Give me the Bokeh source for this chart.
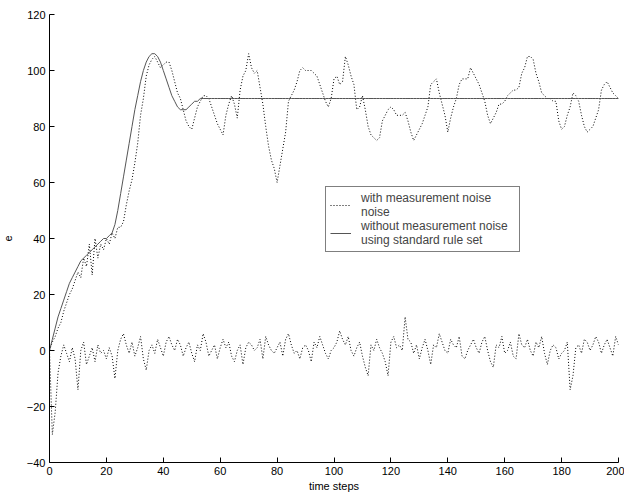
from bokeh.plotting import figure
from bokeh.models import Legend, LegendItem, FixedTicker
from bokeh.embed import file_html
from bokeh.resources import INLINE

# time steps
steps = list(range(0, 201))

# with measurement noise (dotted)
with_noise = [
    0, 3, 5, 8, 10, 14, 17, 20, 22, 25,
    28, 26, 33, 30, 38, 27, 40, 33, 38, 36,
    40, 38, 42, 40, 44, 44, 46, 52, 57, 61,
    67, 74, 84, 90, 98, 102, 104, 105, 103, 101,
    102, 103, 103, 100, 96, 92, 90, 86, 82, 80,
    79, 83, 87, 89, 91, 91, 90, 87, 84, 81,
    79, 77, 84, 88, 91, 88, 83, 93, 98, 100,
    106, 101, 99, 100, 94, 88, 80, 73, 68, 65,
    60, 66, 72, 78, 89, 91, 93, 96, 100, 101,
    100, 100, 100, 99, 98, 95, 92, 89, 87, 90,
    97, 98, 95, 96, 105, 102, 98, 95, 86, 87,
    91, 86, 80, 77, 76, 75, 76, 82, 84, 86,
    87, 86, 84, 84, 84, 85, 82, 78, 75, 77,
    79, 81, 84, 87, 95, 96, 97, 92, 88, 84,
    78, 83, 87, 90, 95, 97, 97, 97, 101, 99,
    97, 95, 92, 89, 84, 81, 83, 85, 88, 88,
    89, 91, 92, 93, 93, 94, 99, 101, 105, 105,
    104, 99, 96, 92, 91, 90, 90, 89, 89, 82,
    79, 80, 84, 87, 92, 91, 89, 84, 80, 78,
    79, 80, 83, 86, 93, 95, 96, 94, 92, 91,
    90,
]

# without measurement noise, standard rule set (solid)
without_noise = [
    0, 4, 8, 12, 15, 18, 21, 24, 26, 28,
    30, 32, 33, 34, 35, 36, 37, 38, 39, 40,
    40, 41, 42, 45, 50, 56, 62, 68, 74, 80,
    86, 91, 96, 100, 103, 105, 106, 106, 105, 103,
    100, 97, 94, 91, 89, 87, 86, 86, 86, 87,
    88, 89, 89, 90, 90, 90, 90, 90, 90, 90,
    90, 90, 90, 90, 90, 90, 90, 90, 90, 90,
    90, 90, 90, 90, 90, 90, 90, 90, 90, 90,
    90, 90, 90, 90, 90, 90, 90, 90, 90, 90,
    90, 90, 90, 90, 90, 90, 90, 90, 90, 90,
    90, 90, 90, 90, 90, 90, 90, 90, 90, 90,
    90, 90, 90, 90, 90, 90, 90, 90, 90, 90,
    90, 90, 90, 90, 90, 90, 90, 90, 90, 90,
    90, 90, 90, 90, 90, 90, 90, 90, 90, 90,
    90, 90, 90, 90, 90, 90, 90, 90, 90, 90,
    90, 90, 90, 90, 90, 90, 90, 90, 90, 90,
    90, 90, 90, 90, 90, 90, 90, 90, 90, 90,
    90, 90, 90, 90, 90, 90, 90, 90, 90, 90,
    90, 90, 90, 90, 90, 90, 90, 90, 90, 90,
    90, 90, 90, 90, 90, 90, 90, 90, 90, 90,
    90,
]

# lower series (measurement noise / error) near zero
error_series = [
    0, -30, -22, -8, -2, 2, -1, -4, 1, -3,
    -14, 0, 3, -5, -2, 1, -4, 2, -1, 0,
    -3, 1, -2, -10, 0, 4, 6, 2, -1, 3,
    -2, 1, 5, -3, -7, 0, 2, -1, 4, 1,
    -2, 3, 5, 2, 0, 4, 2, -2, 1, 3,
    -1, -4, 2, 0, 6, 3, -2, 0, 2, -3,
    1, 4, 1, 3, -2, -4, 0, 2, -5, 1,
    3, 2, 0, 1, 4, -3, 5, 2, 0, -1,
    1, 3, -2, 4, 6, 2, -1, 0, -3, 1,
    2, 0, -4, 3, 1, 5, 2, -1, -3, 0,
    1, 3, 7, 4, 2, 5, 0, -2, 1, 3,
    -2, -6, -9, 2, 0, 4, 1, -1, -4, -9,
    3, 5, 1, 2, 0, 12, 4, 3, -1, 2,
    -3, 1, 4, 0, -5, 2, 1, 6, 3, 0,
    -1, 4, 2, 1, 5, -2, -3, 0, 2, 4,
    1, -1, 3, 5, 0, -4, -6, 2, 1, 5,
    -1, 0, 3, -2, -3, 6, 2, 1, 4, 0,
    -2, 3, 1, 5, -1, -5, 0, 2, 1, -3,
    -1, 0, 3, -14, -9, 1, 2, -1, 4, 3,
    0, 2, 5, 3, -1, 2, 4, 1, -2, 5,
    2,
]

x_ticks = [0, 20, 40, 60, 80, 100, 120, 140, 160, 180, 200]
y_ticks = [-40, -20, 0, 20, 40, 60, 80, 100, 120]

FONT = "Liberation Sans"

p = figure(width=624, height=497, output_backend="svg", toolbar_location=None,
           x_range=(0, 200), y_range=(-40, 120),
           min_border_left=49, min_border_right=6, min_border_top=14, min_border_bottom=35)
p.outline_line_color = None
p.xgrid.visible = False
p.ygrid.visible = False
p.background_fill_color = "white"
p.border_fill_color = "white"

r_noise = p.line(steps, with_noise, line_color="black", line_width=1, line_dash="1 2")
r_clean = p.line(steps, without_noise, line_color="#555555", line_width=1)
p.line(steps, error_series, line_color="black", line_width=1, line_dash="1 2")

for ax, ticks in ((p.xaxis[0], x_ticks), (p.yaxis[0], y_ticks)):
    ax.ticker = FixedTicker(ticks=ticks)
    ax.major_tick_in = 5
    ax.major_tick_out = 0
    ax.minor_tick_line_color = None
    ax.axis_line_color = "black"
    ax.major_tick_line_color = "black"
    ax.major_label_text_font = FONT
    ax.major_label_text_font_size = "11px"
    ax.major_label_text_color = "black"
    ax.axis_label_text_font = FONT
    ax.axis_label_text_font_size = "11px"
    ax.axis_label_text_font_style = "normal"
    ax.axis_label_text_color = "black"

p.xaxis.axis_label = "time steps"
p.xaxis.axis_label_standoff = 2
p.xaxis.major_label_standoff = 4
p.yaxis.axis_label = "e"
p.yaxis.axis_label_standoff = 12
p.yaxis.major_label_standoff = 4

legend = Legend(items=[
    LegendItem(label="with measurement noise\nnoise", renderers=[r_noise]),
    LegendItem(label="without measurement noise\nusing standard rule set", renderers=[r_clean]),
], location=(276, 210))
legend.border_line_color = "black"
legend.border_line_width = 1
legend.background_fill_color = "white"
legend.background_fill_alpha = 1.0
legend.label_text_font = FONT
legend.label_text_font_size = "12px"
legend.label_text_line_height = 0.92
legend.label_width = 154
legend.glyph_width = 21
legend.spacing = 0
legend.padding = 4
legend.margin = 0
legend.label_standoff = 10
p.add_layout(legend, "center")

open("out.html", "w").write(file_html(p, INLINE))
